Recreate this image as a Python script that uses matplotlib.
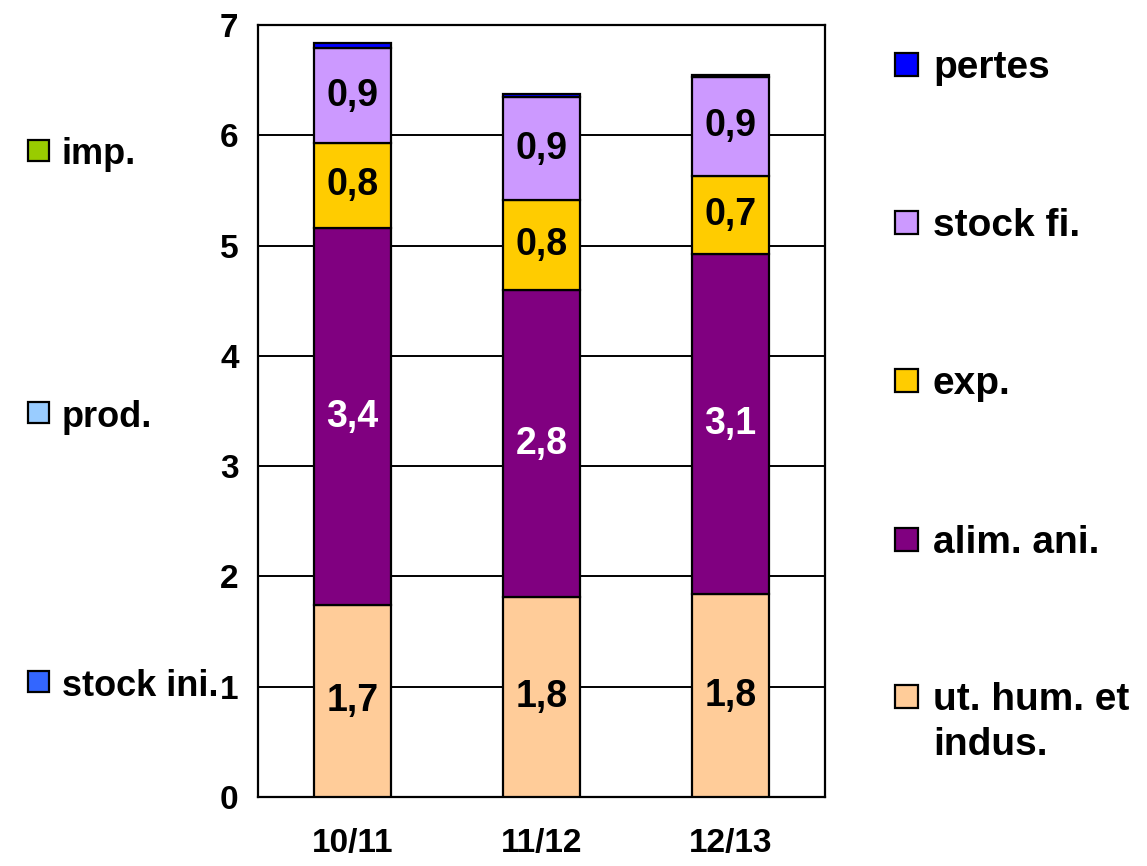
import matplotlib
matplotlib.use('Agg')
import matplotlib.pyplot as plt
from matplotlib.patches import Rectangle
import numpy as np

plt.rcParams['font.family'] = ['Liberation Sans', 'DejaVu Sans']
plt.rcParams['font.weight'] = 'bold'

campagnes = ['10/11', '11/12', '12/13']
ut_hum = [1.74, 1.81, 1.84]
alim_ani = [3.42, 2.79, 3.08]
exp_ = [0.77, 0.81, 0.71]
stock_fi = [0.86, 0.94, 0.90]
pertes = [0.05, 0.02, 0.02]

series = [
    ('ut. hum. et\nindus.', ut_hum, '#FFCC99', 'black'),
    ('alim. ani.', alim_ani, '#800080', 'white'),
    ('exp.', exp_, '#FFCC00', 'black'),
    ('stock fi.', stock_fi, '#CC99FF', 'black'),
    ('pertes', pertes, '#0000FF', None),
]
# ressources (legende gauche, pas de barres)
ressources = [('imp.', '#99CC00'), ('prod.', '#99CCFF'), ('stock ini.', '#3366FF')]

W, H = 1147, 866
fig = plt.figure(figsize=(W / 100, H / 100), dpi=100)
ax = fig.add_axes([258 / W, 1 - 797 / H, (825 - 258) / W, (797 - 25) / H])

x = np.arange(len(campagnes))
bottom = np.zeros(len(campagnes))
for name, vals, col, tcol in series:
    vals = np.array(vals)
    ax.bar(x, vals, 0.405, bottom=bottom, color=col, edgecolor='black', linewidth=1.6, zorder=3)
    if tcol is not None:
        for xi, b, v in zip(x, bottom, vals):
            ax.text(xi, b + v / 2, f'{v:.1f}'.replace('.', ','), ha='center', va='center',
                    color=tcol, fontsize=27, fontweight='bold', zorder=4)
    bottom += vals

ax.set_xlim(-0.5, 2.5)
ax.set_ylim(0, 7)
ax.set_yticks(range(8))
ax.set_xticks(x)
ax.set_xticklabels(campagnes)
ax.yaxis.grid(True, color='black', linewidth=1.4, zorder=0)
ax.tick_params(axis='y', length=0, pad=14, labelsize=24)
ax.tick_params(axis='x', length=0, pad=22, labelsize=24)
for sp in ax.spines.values():
    sp.set_linewidth(1.6)

# legende droite
right = [('pertes', '#0000FF', 68), ('stock fi.', '#CC99FF', 226), ('exp.', '#FFCC00', 384),
         ('alim. ani.', '#800080', 543), ('ut. hum. et', '#FFCC99', 700)]
for lab, col, yc in right:
    fig.add_artist(Rectangle((895 / W, 1 - (yc + 8) / H), 23 / W, 23 / H, transform=fig.transFigure,
                             facecolor=col, edgecolor='black', linewidth=1.6))
    fig.text(933 / W, 1 - yc / H, lab, ha='left', va='center', fontsize=28, fontweight='bold')
fig.text(933 / W, 1 - 745 / H, 'indus.', ha='left', va='center', fontsize=28, fontweight='bold')

# legende gauche
left_y = [155, 417, 686]
for (lab, col), yc in zip(ressources, left_y):
    fig.add_artist(Rectangle((28 / W, 1 - (yc + 6) / H), 21 / W, 21 / H, transform=fig.transFigure,
                             facecolor=col, edgecolor='black', linewidth=1.6))
    fig.text(62 / W, 1 - yc / H, lab, ha='left', va='center', fontsize=26, fontweight='bold')

fig.savefig('out.png', dpi=100)
